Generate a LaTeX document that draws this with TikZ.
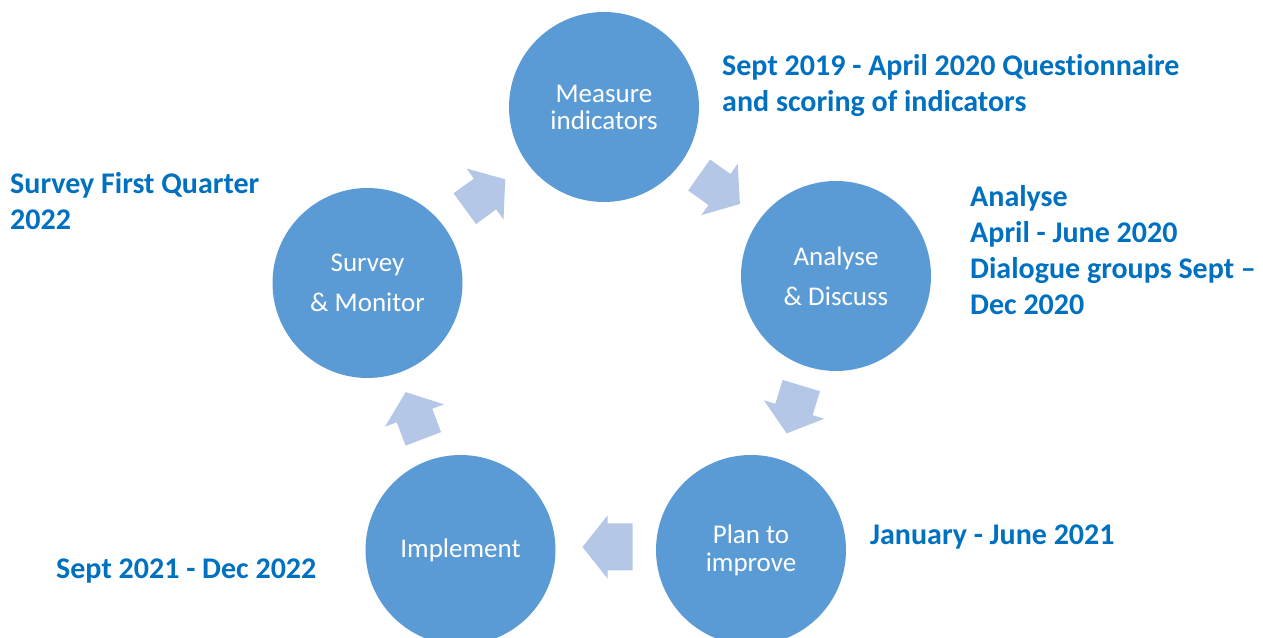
\documentclass[tikz,border=0pt]{standalone}
\usepackage{fontspec}
\setmainfont[Ligatures=NoCommon]{Carlito}
\definecolor{circfill}{HTML}{5B9BD5}
\definecolor{arrfill}{HTML}{B4C7E7}
\definecolor{lbl}{HTML}{0070C0}
\tikzset{
  circ/.style={circle, fill=circfill, minimum size=190pt, inner sep=0pt, text=white, align=center},
  lbltext/.style={text=lbl, font=\bfseries\fontsize{30}{36}\selectfont, align=left, inner sep=0pt, anchor=base west},
  barrow/.pic={\fill[arrfill] (-25,-#1/2) -- (0,-#1/2) -- (0,-31.5) -- (25,0) -- (0,31.5) -- (0,#1/2) -- (-25,#1/2) -- cycle;}
}
\begin{document}
\begin{tikzpicture}[x=1pt,y=1pt]
\useasboundingbox (0,0) rectangle (1263,637);
\clip (0,0) rectangle (1263,637);
% circles
\node[circ, font=\fontsize{27}{27}\selectfont] (measure) at (604,530) {Measure\\indicators};
\node[circ, font=\fontsize{27}{40}\selectfont] (analyse) at (836,361) {Analyse\\\& Discuss};
\node[circ, font=\fontsize{27}{28}\selectfont] (plan) at (751,87) {Plan to\\improve};
\node[circ, font=\fontsize{27}{28}\selectfont] (implement) at (460.5,87) {Implement};
\node[circ, font=\fontsize{27}{40}\selectfont] (survey) at (367.5,354) {Survey\\\& Monitor};
% block arrows
\pic[rotate=36] at (485,443) {barrow=38};
\pic[rotate=-35.3] at (719.5,447.5) {barrow=38};
\pic[rotate=-107] at (794,227.5) {barrow=39};
\pic[rotate=180] at (607.5,90) {barrow=47};
\pic[rotate=110.7] at (414.5,221.5) {barrow=38};
% labels (base anchor = last line's baseline)
\node[lbltext] (l1) at (722,525) {Sept 2019 - April 2020 Questionnaire\\and scoring of indicators};
\node[lbltext] (l2) at (970,322) {Analyse\\April - June 2020\\Dialogue groups Sept –\\Dec 2020};
\node[lbltext] (l3) at (870,92) {January - June 2021};
\node[lbltext] (l4) at (56,59) {Sept 2021 - Dec 2022};
\node[lbltext] (l5) at (10,407) {Survey First Quarter\\2022};
\end{tikzpicture}
\end{document}
